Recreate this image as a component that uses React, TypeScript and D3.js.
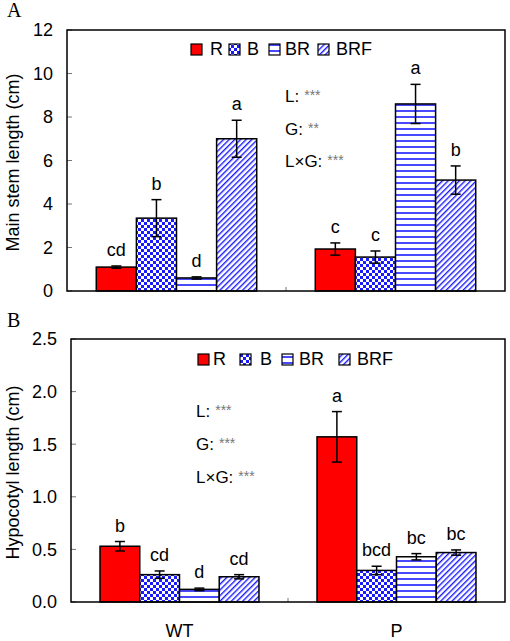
import React from "react";
import * as d3 from "d3";

const groups = ["WT", "P"];
const treatments = ["R", "B", "BR", "BRF"];

const stemMean = [[1.1, 3.35, 0.6, 7.0], [1.93, 1.56, 8.6, 5.1]];
const stemErr = [[0.05, 0.85, 0.05, 0.85], [0.28, 0.28, 0.9, 0.65]];
const stemLetters = [["cd", "b", "d", "a"], ["c", "c", "a", "b"]];
const stemTicks = [0, 2, 4, 6, 8, 10, 12];
const stemStats = [["L:", "***"], ["G:", "**"], ["L×G:", "***"]];

const hypoMean = [[0.53, 0.26, 0.12, 0.24], [1.57, 0.3, 0.43, 0.47]];
const hypoErr = [[0.045, 0.035, 0.012, 0.02], [0.24, 0.04, 0.03, 0.025]];
const hypoLetters = [["b", "cd", "d", "cd"], ["a", "bcd", "bc", "bc"]];
const hypoTicks = [0, 0.5, 1.0, 1.5, 2.0, 2.5];
const hypoStats = [["L:", "***"], ["G:", "***"], ["L×G:", "***"]];

const FONT = "'Liberation Sans', Arial, sans-serif";
const BLUE = "#1a1aff";

const fills = ["#ff0000", "url(#pChk)", "url(#pHor)", "url(#pDiag)"];

type PanelProps = {
  left: number; right: number; top: number; bottom: number;
  max: number; ticks: number[]; fmt: (v: number) => string;
  means: number[][]; errs: number[][]; letters: string[][];
  stats: string[][]; statX: number; statY: number; statGap: number;
  legendBox: number[]; legendText: number[]; legendY: number;
  ylabel: string; panelLabel: string; labelY: number; showX: boolean;
};

function Panel(p: PanelProps) {
  const y = d3.scaleLinear().domain([0, p.max]).range([p.bottom, p.top]);
  const xg = d3.scaleBand().domain(groups).range([p.left, p.right]);
  const xb = d3.scaleBand().domain(treatments).range([0, xg.bandwidth()]).paddingInner(0).paddingOuter(0.73);
  const midY = (p.top + p.bottom) / 2 + 2;
  return (
    <g>
      <text x={7} y={p.labelY} fontFamily="'Liberation Serif', 'Times New Roman', serif" fontSize={20}>{p.panelLabel}</text>
      <text transform={`translate(19,${midY}) rotate(-90)`} textAnchor="middle" fontFamily={FONT} fontSize={18}>{p.ylabel}</text>
      {p.ticks.map((t) => (
        <g key={t}>
          <line x1={p.left} x2={p.left + 5} y1={y(t)} y2={y(t)} stroke="#777" strokeWidth={1} />
          <text x={p.left - 14} y={y(t)} dy="0.35em" textAnchor="end" fontFamily={FONT} fontSize={18}>{p.fmt(t)}</text>
        </g>
      ))}
      <line x1={xg("P")!} x2={xg("P")!} y1={p.bottom} y2={p.bottom - 4} stroke="#777" />
      {groups.map((g, gi) => treatments.map((t, ti) => {
        const x0 = xg(g)! + xb(t)!;
        const w = xb.bandwidth();
        const m = p.means[gi][ti];
        const e = p.errs[gi][ti];
        const cx = x0 + w / 2;
        return (
          <g key={g + t}>
            <rect x={x0} y={y(m)} width={w} height={p.bottom - y(m)} fill={fills[ti]} stroke="#000" strokeWidth={1.5} />
            <line x1={cx} x2={cx} y1={y(m - e)} y2={y(m + e)} stroke="#000" strokeWidth={1.5} />
            <line x1={cx - 5} x2={cx + 5} y1={y(m + e)} y2={y(m + e)} stroke="#000" strokeWidth={1.5} />
            <line x1={cx - 5} x2={cx + 5} y1={y(m - e)} y2={y(m - e)} stroke="#000" strokeWidth={1.5} />
            <text x={cx} y={y(m + e) - 10} textAnchor="middle" fontFamily={FONT} fontSize={18}>{p.letters[gi][ti]}</text>
          </g>
        );
      }))}
      <rect x={p.left} y={p.top} width={p.right - p.left} height={p.bottom - p.top} fill="none" stroke="#000" strokeWidth={1.5} />
      {treatments.map((t, i) => (
        <g key={t}>
          <rect x={p.legendBox[i]} y={p.legendY - 11} width={11} height={11} fill={fills[i]} stroke="#000" strokeWidth={1.2} />
          <text x={p.legendText[i]} y={p.legendY} fontFamily={FONT} fontSize={18}>{t}</text>
        </g>
      ))}
      {p.stats.map((s, i) => (
        <text key={i} x={p.statX} y={p.statY + i * p.statGap} fontFamily={FONT} fontSize={17}>
          {s[0]}<tspan fill="#777" fontSize={14} dx={5} dy={-2}>{s[1]}</tspan>
        </text>
      ))}
      {p.showX && groups.map((g) => (
        <text key={g} x={xg(g)! + xg.bandwidth() / 2} y={637} textAnchor="middle" fontFamily={FONT} fontSize={18}>{g}</text>
      ))}
    </g>
  );
}

export default function App() {
  return (
    <svg width={510} height={641} style={{ position: "absolute", left: 0, top: 0 }}>
      <defs>
        <pattern id="pChk" width={6} height={6} patternUnits="userSpaceOnUse">
          <rect width={6} height={6} fill="#fff" />
          <rect width={3} height={3} fill={BLUE} />
          <rect x={3} y={3} width={3} height={3} fill={BLUE} />
        </pattern>
        <pattern id="pHor" width={6} height={6} patternUnits="userSpaceOnUse">
          <rect width={6} height={6} fill="#fff" />
          <line x1={0} x2={6} y1={3} y2={3} stroke={BLUE} strokeWidth={1.6} />
        </pattern>
        <pattern id="pDiag" width={4} height={4} patternUnits="userSpaceOnUse" patternTransform="rotate(45)">
          <rect width={4} height={4} fill="#fff" />
          <line x1={0.7} x2={0.7} y1={0} y2={4} stroke={BLUE} strokeWidth={1.4} />
        </pattern>
      </defs>
      <rect width={510} height={641} fill="#fff" />
      <Panel left={67} right={505} top={30} bottom={291} max={12} ticks={stemTicks} fmt={(v) => String(v)}
        means={stemMean} errs={stemErr} letters={stemLetters} stats={stemStats}
        statX={285} statY={102} statGap={32.5}
        legendBox={[191, 229, 269, 318]} legendText={[210, 247, 285, 336]} legendY={55}
        ylabel="Main stem length (cm)" panelLabel="A" labelY={17} showX={false} />
      <Panel left={71} right={505} top={339} bottom={602} max={2.5} ticks={hypoTicks} fmt={(v) => v.toFixed(1)}
        means={hypoMean} errs={hypoErr} letters={hypoLetters} stats={hypoStats}
        statX={196} statY={417} statGap={33}
        legendBox={[198, 240, 282, 339]} legendText={[213, 260, 299, 357]} legendY={365}
        ylabel="Hypocotyl length (cm)" panelLabel="B" labelY={327} showX={true} />
    </svg>
  );
}
